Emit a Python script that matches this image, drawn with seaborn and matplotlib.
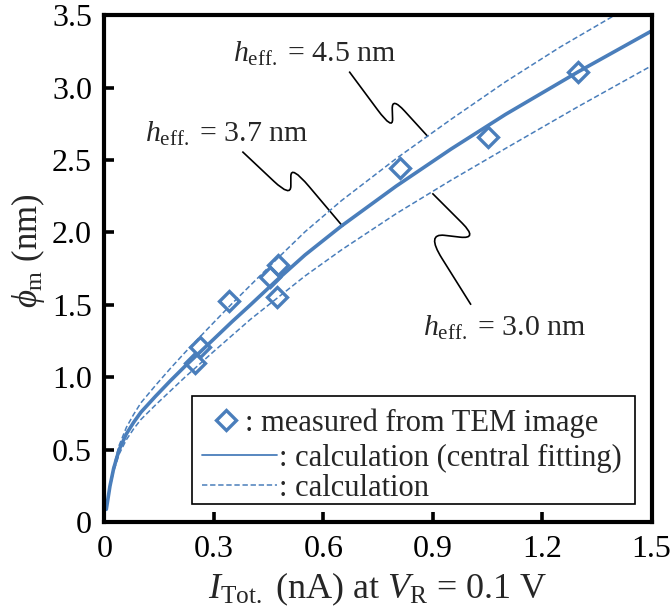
import numpy as np
import pandas as pd
import seaborn as sns
import matplotlib
matplotlib.use("Agg")
import matplotlib.pyplot as plt
from matplotlib.lines import Line2D
from matplotlib.patches import Rectangle, PathPatch
from matplotlib.path import Path

# measured points
meas_x = [0.248, 0.262, 0.342, 0.454, 0.475, 0.472, 0.810, 1.051, 1.299]
meas_y = [1.097, 1.212, 1.529, 1.695, 1.776, 1.557, 2.447, 2.657, 3.110]

# central fitting curve (h_eff = 3.7 nm)
cen_x = [0.005, 0.015, 0.025, 0.04, 0.06, 0.08, 0.10, 0.14, 0.18, 0.22, 0.26, 0.30,
         0.35, 0.40, 0.47, 0.55, 0.65, 0.80, 0.95, 1.10, 1.30, 1.50]
cen_y = [0.09, 0.25, 0.37, 0.50, 0.61, 0.69, 0.76, 0.87, 0.975, 1.075, 1.17, 1.265,
         1.385, 1.50, 1.665, 1.845, 2.045, 2.32, 2.575, 2.815, 3.11, 3.39]

# upper curve (h_eff = 4.5 nm)
up_x = [0.005, 0.015, 0.025, 0.04, 0.06, 0.08, 0.10, 0.14, 0.18, 0.22, 0.26, 0.30,
        0.35, 0.40, 0.47, 0.55, 0.65, 0.80, 0.95, 1.10, 1.25, 1.40]
up_y = [0.09, 0.26, 0.385, 0.53, 0.655, 0.745, 0.825, 0.945, 1.06, 1.17, 1.275, 1.38,
        1.51, 1.635, 1.81, 2.005, 2.22, 2.51, 2.78, 3.04, 3.28, 3.50]

# lower curve (h_eff = 3.0 nm)
lo_x = [0.005, 0.015, 0.025, 0.04, 0.06, 0.08, 0.10, 0.14, 0.18, 0.22, 0.26, 0.30,
        0.35, 0.40, 0.47, 0.55, 0.65, 0.80, 0.95, 1.10, 1.30, 1.50]
lo_y = [0.09, 0.24, 0.35, 0.47, 0.57, 0.645, 0.71, 0.81, 0.905, 1.00, 1.09, 1.18,
        1.29, 1.40, 1.54, 1.70, 1.88, 2.13, 2.36, 2.58, 2.87, 3.15]

xticks = [0, 0.3, 0.6, 0.9, 1.2, 1.5]
xticklabels = ["0", "0.3", "0.6", "0.9", "1.2", "1.5"]
yticks = [0, 0.5, 1.0, 1.5, 2.0, 2.5, 3.0, 3.5]
yticklabels = ["0", "0.5", "1.0", "1.5", "2.0", "2.5", "3.0", "3.5"]

# callout labels and their zigzag leader lines (start, turn, turn, end)
labels = [r"$h_{\rm eff.}$ = 4.5 nm", r"$h_{\rm eff.}$ = 3.7 nm", r"$h_{\rm eff.}$ = 3.0 nm"]
label_pos = [(0.352, 3.177), (0.110, 2.627), (0.872, 1.285)]
leaders = [
    [(0.671, 3.110), (0.791, 2.703), (0.788, 2.934), (0.887, 2.661)],
    [(0.378, 2.558), (0.511, 2.243), (0.511, 2.466), (0.654, 2.040)],
    [(0.899, 2.270), (1.025, 1.953), (0.882, 1.995), (1.005, 1.501)],
]

legend_labels = [": measured from TEM image", ": calculation (central fitting)",
                 ": calculation"]

blue = "#4a7ebb"

sns.set_theme(style="ticks")
plt.rcParams["font.family"] = ["Liberation Serif", "DejaVu Serif"]
plt.rcParams["mathtext.fontset"] = "custom"
plt.rcParams["mathtext.rm"] = "Liberation Serif"
plt.rcParams["mathtext.it"] = "Liberation Serif:italic"

fig = plt.figure(figsize=(6.71, 6.16), dpi=100)
ax = fig.add_axes([0.1557, 0.152, 0.8153, 0.8236])

cen = pd.DataFrame({"x": cen_x, "y": cen_y})
up = pd.DataFrame({"x": up_x, "y": up_y})
lo = pd.DataFrame({"x": lo_x, "y": lo_y})
meas = pd.DataFrame({"x": meas_x, "y": meas_y})

dash_kw = dict(color=blue, linewidth=1.1, dashes=(3.5, 1.8))
sns.lineplot(data=up, x="x", y="y", ax=ax, sort=False, estimator=None, **dash_kw)
sns.lineplot(data=lo, x="x", y="y", ax=ax, sort=False, estimator=None, **dash_kw)
sns.lineplot(data=cen, x="x", y="y", ax=ax, sort=False, estimator=None,
             color=blue, linewidth=2.6)
sns.lineplot(data=meas, x="x", y="y", ax=ax, sort=False, estimator=None,
             linestyle="none", marker="D", markersize=10, markerfacecolor="none",
             markeredgecolor=blue, markeredgewidth=2.4)


def squiggle(pts, r=0.35):
    # rounded zigzag: straight runs joined by quadratic curves at the two turns
    s, b, t, e = [np.array(p) for p in pts]
    verts = [s, b + (s - b) * r, b, b + (t - b) * r, t + (b - t) * r, t, t + (e - t) * r, e]
    codes = [Path.MOVETO, Path.LINETO, Path.CURVE3, Path.CURVE3, Path.LINETO,
             Path.CURVE3, Path.CURVE3, Path.LINETO]
    return Path(verts, codes)


for pts in leaders:
    ax.add_patch(PathPatch(squiggle(pts), facecolor="none", edgecolor="black",
                           linewidth=1.2))
for txt, (tx, ty) in zip(labels, label_pos):
    ax.text(tx, ty, txt, fontsize=21.5, ha="left", va="baseline")

ax.set_xlim(0, 1.5)
ax.set_ylim(0, 3.5)
ax.set_xticks(xticks)
ax.set_xticklabels(xticklabels)
ax.set_yticks(yticks)
ax.set_yticklabels(yticklabels)
ax.tick_params(direction="in", length=7, width=2.6, labelsize=23, pad=9,
               colors="black")
for sp in ax.spines.values():
    sp.set_visible(True)
    sp.set_linewidth(3)
    sp.set_color("black")

ax.set_xlabel(r"$I_{\rm Tot.}$ (nA) at $V_{\rm R}$ = 0.1 V", fontsize=26, labelpad=5)
ax.set_ylabel(r"$\phi_{\rm m}$ (nm)", fontsize=25)
ax.yaxis.set_label_coords(-0.105, 0.535)

# legend box drawn in axes fraction
ta = ax.transAxes
ax.add_patch(Rectangle((0.1605, 0.036), 0.8095, 0.214, transform=ta, facecolor="white",
                       edgecolor="black", linewidth=1.2, zorder=5))
ax.add_line(Line2D([0.2221], [0.2017], transform=ta, linestyle="none", marker="D",
                   markersize=10, markerfacecolor="none", markeredgecolor=blue,
                   markeredgewidth=2.4, zorder=6))
ax.add_line(Line2D([0.1782, 0.3153], [0.1327, 0.1327], transform=ta, color=blue,
                   linewidth=1.3, zorder=6))
ax.add_line(Line2D([0.1782, 0.3153], [0.0735, 0.0735], transform=ta, color=blue,
                   linewidth=1.1, dashes=(3.5, 1.8), zorder=6))
for lab, (lx, ly) in zip(legend_labels, [(0.2569, 0.2017), (0.319, 0.1327), (0.319, 0.0735)]):
    ax.text(lx, ly, lab, transform=ta, fontsize=22, ha="left", va="center_baseline",
            zorder=7)

fig.savefig("out.png", dpi=100)
